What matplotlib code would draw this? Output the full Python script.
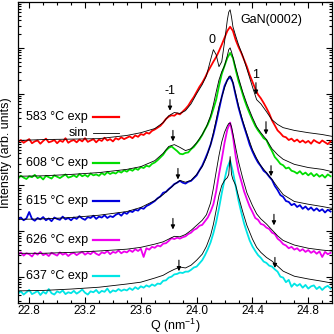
import matplotlib
matplotlib.use("Agg")
import matplotlib.pyplot as plt
import numpy as np
from matplotlib.ticker import MultipleLocator, LogLocator, NullFormatter

plt.rcParams['font.family'] = ['Liberation Sans', 'DejaVu Sans']
plt.rcParams['font.size'] = 9
plt.rcParams['mathtext.default'] = 'regular'

# measured Q grid (nm^-1), step 0.02
q_exp = np.round(np.arange(22.72, 24.965, 0.02), 2)

# log10 intensity (arb. units, curves offset)
exp_583 = [3.95, 3.99, 3.93, 3.97, 4.01, 3.92, 3.96, 3.98, 3.91, 3.97, 4.02, 3.94, 3.96, 3.99, 3.92, 3.98, 3.95, 4.03, 3.93, 3.97,
           3.99, 3.94, 4.00, 3.96, 4.03, 3.95, 3.98, 4.01, 3.94, 4.00, 3.97, 4.04, 3.98, 4.01, 3.96, 4.03, 4.00, 4.05, 4.01, 4.04,
           4.07, 4.03, 4.09, 4.06, 4.12, 4.10, 4.15, 4.13, 4.19, 4.22, 4.26, 4.30, 4.37, 4.45, 4.50, 4.53, 4.52, 4.57, 4.55, 4.61,
           4.67, 4.74, 4.84, 4.93, 5.04, 5.15, 5.24, 5.35, 5.48, 5.59, 5.70, 5.80, 5.93, 6.07, 6.22, 6.37, 6.46, 6.37, 6.17, 6.02,
           5.89, 5.74, 5.59, 5.41, 5.26, 5.11, 4.98, 4.90, 4.80, 4.69, 4.57, 4.42, 4.31, 4.20, 4.14, 4.07, 4.05, 3.99, 4.02, 3.96,
           4.00, 3.94, 3.98, 3.93, 3.97, 3.91, 3.99, 3.95, 3.92, 3.98, 3.94, 3.90, 3.96]
exp_608 = [3.15, 3.21, 3.17, 3.14, 3.20, 3.18, 3.23, 3.16, 3.19, 3.13, 3.21, 3.18, 3.15, 3.22, 3.19, 3.16, 3.20, 3.24, 3.17, 3.19,
           3.22, 3.18, 3.25, 3.20, 3.23, 3.19, 3.26, 3.22, 3.24, 3.21, 3.27, 3.23, 3.29, 3.25, 3.28, 3.26, 3.31, 3.28, 3.33, 3.30,
           3.35, 3.32, 3.37, 3.34, 3.40, 3.38, 3.43, 3.41, 3.47, 3.50, 3.55, 3.61, 3.67, 3.76, 3.82, 3.85, 3.80, 3.75, 3.69, 3.68,
           3.71, 3.72, 3.79, 3.84, 3.92, 4.00, 4.10, 4.22, 4.33, 4.48, 4.67, 4.87, 5.17, 5.43, 5.61, 5.78, 5.89, 5.78, 5.52, 5.28,
           5.09, 4.89, 4.72, 4.57, 4.43, 4.30, 4.20, 4.12, 4.03, 3.99, 3.86, 3.75, 3.62, 3.55, 3.47, 3.44, 3.37, 3.39, 3.32, 3.30,
           3.26, 3.31, 3.24, 3.28, 3.22, 3.27, 3.20, 3.25, 3.19, 3.23, 3.17, 3.24, 3.20]
exp_615 = [2.25, 2.30, 2.24, 2.28, 2.42, 2.27, 2.23, 2.29, 2.26, 2.31, 2.24, 2.28, 2.22, 2.30, 2.27, 2.25, 2.32, 2.26, 2.29, 2.24,
           2.30, 2.27, 2.33, 2.28, 2.25, 2.31, 2.29, 2.34, 2.27, 2.32, 2.30, 2.35, 2.29, 2.33, 2.31, 2.36, 2.39, 2.34, 2.41, 2.38,
           2.44, 2.42, 2.47, 2.45, 2.51, 2.49, 2.55, 2.58, 2.62, 2.66, 2.72, 2.76, 2.84, 2.86, 2.92, 2.97, 3.03, 3.06, 3.10, 3.06,
           3.04, 3.08, 3.10, 3.16, 3.22, 3.33, 3.43, 3.57, 3.72, 3.89, 4.11, 4.37, 4.65, 4.93, 5.17, 5.30, 5.37, 5.24, 4.96, 4.70,
           4.48, 4.28, 4.09, 3.89, 3.74, 3.61, 3.50, 3.42, 3.32, 3.27, 3.19, 3.12, 2.99, 2.90, 2.79, 2.75, 2.66, 2.64, 2.57, 2.60,
           2.53, 2.57, 2.49, 2.54, 2.47, 2.52, 2.45, 2.50, 2.44, 2.48, 2.41, 2.47, 2.43]
exp_626 = [1.49, 1.54, 1.47, 1.52, 1.50, 1.45, 1.53, 1.49, 1.55, 1.48, 1.51, 1.46, 1.53, 1.50, 1.47, 1.54, 1.49, 1.52, 1.46, 1.51,
           1.53, 1.48, 1.52, 1.55, 1.49, 1.53, 1.50, 1.56, 1.51, 1.48, 1.54, 1.52, 1.57, 1.50, 1.55, 1.53, 1.58, 1.52, 1.56, 1.54,
           1.59, 1.55, 1.61, 1.57, 1.62, 1.44, 1.63, 1.60, 1.66, 1.64, 1.69, 1.67, 1.73, 1.74, 1.79, 1.85, 1.83, 1.86, 1.84, 1.87,
           1.89, 1.94, 1.97, 2.03, 2.06, 2.12, 2.14, 2.22, 2.30, 2.43, 2.59, 2.87, 3.24, 3.57, 3.93, 4.22, 4.37, 4.07, 3.63, 3.30,
           3.09, 2.87, 2.70, 2.54, 2.42, 2.29, 2.25, 2.16, 2.14, 2.08, 2.05, 1.97, 1.94, 1.84, 1.79, 1.72, 1.69, 1.63, 1.66, 1.60,
           1.63, 1.57, 1.61, 1.55, 1.59, 1.53, 1.57, 1.51, 1.56, 1.44, 1.55, 1.50, 1.53]
exp_637 = [0.64, 0.69, 0.62, 0.67, 0.72, 0.63, 0.66, 0.70, 0.61, 0.68, 0.64, 0.74, 0.65, 0.62, 0.69, 0.66, 0.71, 0.63, 0.67, 0.65,
           0.70, 0.64, 0.68, 0.73, 0.66, 0.62, 0.69, 0.67, 0.72, 0.65, 0.70, 0.68, 0.75, 0.66, 0.71, 0.69, 0.74, 0.70, 0.73, 0.71,
           0.76, 0.72, 0.78, 0.74, 0.80, 0.77, 0.82, 0.79, 0.84, 0.81, 0.86, 0.85, 0.92, 0.93, 0.99, 1.01, 1.06, 1.07, 1.10, 1.09,
           1.12, 1.12, 1.16, 1.21, 1.23, 1.30, 1.37, 1.48, 1.61, 1.76, 1.96, 2.20, 2.50, 2.83, 3.13, 3.39, 3.54, 3.30, 2.98, 2.67,
           2.41, 2.17, 1.98, 1.80, 1.67, 1.57, 1.48, 1.42, 1.34, 1.31, 1.25, 1.23, 1.17, 1.12, 1.01, 0.99, 0.89, 0.94, 0.79, 0.86,
           0.81, 0.85, 0.77, 0.83, 0.75, 0.80, 0.82, 0.74, 0.79, 0.72, 0.78, 0.81, 0.75]

# simulated curves
q_sim = [22.72, 22.9, 23.1, 23.3, 23.5, 23.6, 23.7, 23.76, 23.8, 23.84,
         23.88, 23.92, 23.96, 24.0, 24.04, 24.07, 24.1, 24.12, 24.14, 24.16,
         24.18, 24.2, 24.22, 24.23, 24.24, 24.25, 24.26, 24.28, 24.3, 24.33,
         24.36, 24.4, 24.43, 24.46, 24.5, 24.54, 24.58, 24.62, 24.7, 24.8,
         24.9, 24.97]
sim_583 = [3.98, 4.00, 4.01, 4.02, 4.09, 4.15, 4.24, 4.37, 4.52, 4.59,
           4.57, 4.63, 4.78, 5.00, 5.20, 5.39, 5.74, 5.96, 5.85, 5.59,
           5.70, 6.13, 6.61, 6.78, 6.83, 6.67, 6.46, 6.26, 6.07, 5.83,
           5.54, 5.15, 4.87, 4.78, 4.61, 4.43, 4.33, 4.26, 4.20, 4.15,
           4.11, 4.07]
sim_608 = [3.20, 3.21, 3.24, 3.28, 3.35, 3.41, 3.54, 3.70, 3.85, 3.89,
           3.83, 3.76, 3.80, 3.93, 4.11, 4.28, 4.52, 4.76, 5.04, 5.30,
           5.48, 5.61, 5.83, 5.96, 6.00, 5.91, 5.80, 5.57, 5.35, 5.04,
           4.78, 4.48, 4.28, 4.15, 4.00, 3.80, 3.67, 3.57, 3.46, 3.39,
           3.35, 3.30]
sim_615 = [2.26, 2.27, 2.30, 2.35, 2.43, 2.52, 2.67, 2.80, 2.91, 3.02,
           3.11, 3.07, 3.11, 3.24, 3.41, 3.61, 3.89, 4.15, 4.43, 4.72,
           4.93, 5.13, 5.30, 5.37, 5.39, 5.35, 5.24, 5.00, 4.74, 4.41,
           4.13, 3.78, 3.59, 3.43, 3.28, 3.13, 2.96, 2.80, 2.65, 2.59,
           2.54, 2.50]
sim_626 = [1.52, 1.52, 1.54, 1.57, 1.61, 1.65, 1.72, 1.77, 1.83, 1.89,
           1.88, 1.93, 2.02, 2.13, 2.24, 2.36, 2.62, 2.94, 3.30, 3.65,
           3.95, 4.16, 4.30, 4.35, 4.36, 4.28, 4.13, 3.82, 3.52, 3.16,
           2.84, 2.56, 2.38, 2.27, 2.16, 2.03, 1.90, 1.80, 1.70, 1.63,
           1.59, 1.57]
sim_637 = [0.70, 0.71, 0.74, 0.78, 0.85, 0.89, 0.98, 1.04, 1.11, 1.17,
           1.22, 1.20, 1.26, 1.37, 1.50, 1.67, 1.91, 2.15, 2.46, 2.78,
           3.00, 3.11, 3.17, 3.24, 3.63, 3.24, 3.13, 3.00, 2.76, 2.43,
           2.13, 1.83, 1.65, 1.54, 1.43, 1.35, 1.24, 1.13, 1.02, 0.96,
           0.91, 0.87]

labels = ['583 °C exp', '608 °C exp', '615 °C exp', '626 °C exp', '637 °C exp']
colors = ['#ff0000', '#00dd00', '#0000dd', '#ee00ee', '#00e5e5']
exp_data = [exp_583, exp_608, exp_615, exp_626, exp_637]
sim_data = [sim_583, sim_608, sim_615, sim_626, sim_637]

# satellite arrows: (Q, log top, log bottom)
arrows = [(23.809, 4.87, 4.63), (23.830, 4.20, 3.96), (23.866, 3.37, 3.13),
          (23.830, 2.28, 2.04), (23.873, 1.37, 1.13),
          (24.425, 5.24, 4.98), (24.497, 4.39, 4.11), (24.533, 3.43, 3.20),
          (24.554, 2.37, 2.13), (24.561, 1.43, 1.20)]

fig = plt.figure(figsize=(3.34, 3.34), dpi=100)
ax = fig.add_axes([0.054, 0.092, 0.94, 0.902])

for e, s, c in zip(exp_data, sim_data, colors):
    ax.plot(q_exp, 10 ** np.array(e), color=c, lw=1.3)
    ax.plot(q_sim, 10 ** np.array(s), color='k', lw=0.6)

ax.set_yscale('log')
ax.set_xlim(22.72, 24.97)
ax.set_ylim(10 ** 0.43, 10 ** 7.0)
ax.set_xticks([22.8, 23.2, 23.6, 24.0, 24.4, 24.8])
ax.xaxis.set_minor_locator(MultipleLocator(0.1))
ax.yaxis.set_major_locator(LogLocator(base=10, numticks=20))
ax.yaxis.set_minor_locator(LogLocator(base=10, subs=range(2, 10), numticks=20))
ax.yaxis.set_major_formatter(NullFormatter())
ax.yaxis.set_minor_formatter(NullFormatter())
ax.tick_params(which='both', direction='in', top=True, right=True, width=0.8)
ax.tick_params(which='major', length=4, pad=1.5, labelsize=8.5)
ax.tick_params(which='minor', length=2)
for sp in ax.spines.values():
    sp.set_linewidth(0.9)

ax.set_xlabel('Q (nm$^{-1}$)', labelpad=-0.5)
ax.set_ylabel('Intensity (arb. units)', labelpad=1)

# legend drawn by hand, next to each curve
leg_y = [0.619, 0.467, 0.341, 0.209, 0.089]
for lab, c, fy in zip(labels, colors, leg_y):
    ax.text(0.223, fy, lab, transform=ax.transAxes, ha='right', va='center')
    ax.plot([0.239, 0.322], [fy, fy], transform=ax.transAxes, color=c, lw=1.6)
ax.text(0.223, 0.566, 'sim', transform=ax.transAxes, ha='right', va='center')
ax.plot([0.239, 0.322], [0.566, 0.566], transform=ax.transAxes, color='k', lw=0.6)

for q, lt, lb in arrows:
    ax.annotate('', xy=(q, 10 ** lb), xytext=(q, 10 ** lt),
                arrowprops=dict(arrowstyle='-|>', color='k', lw=0.8,
                                mutation_scale=6, shrinkA=0, shrinkB=0))

ax.text(23.809, 10 ** 5.07, '-1', ha='center', va='center')
ax.text(24.425, 10 ** 5.41, '1', ha='center', va='center')
ax.text(24.110, 10 ** 6.17, '0', ha='center', va='center')
ax.text(24.31, 10 ** 6.61, 'GaN(0002)', ha='left', va='center')

fig.savefig('out.png', dpi=100)
